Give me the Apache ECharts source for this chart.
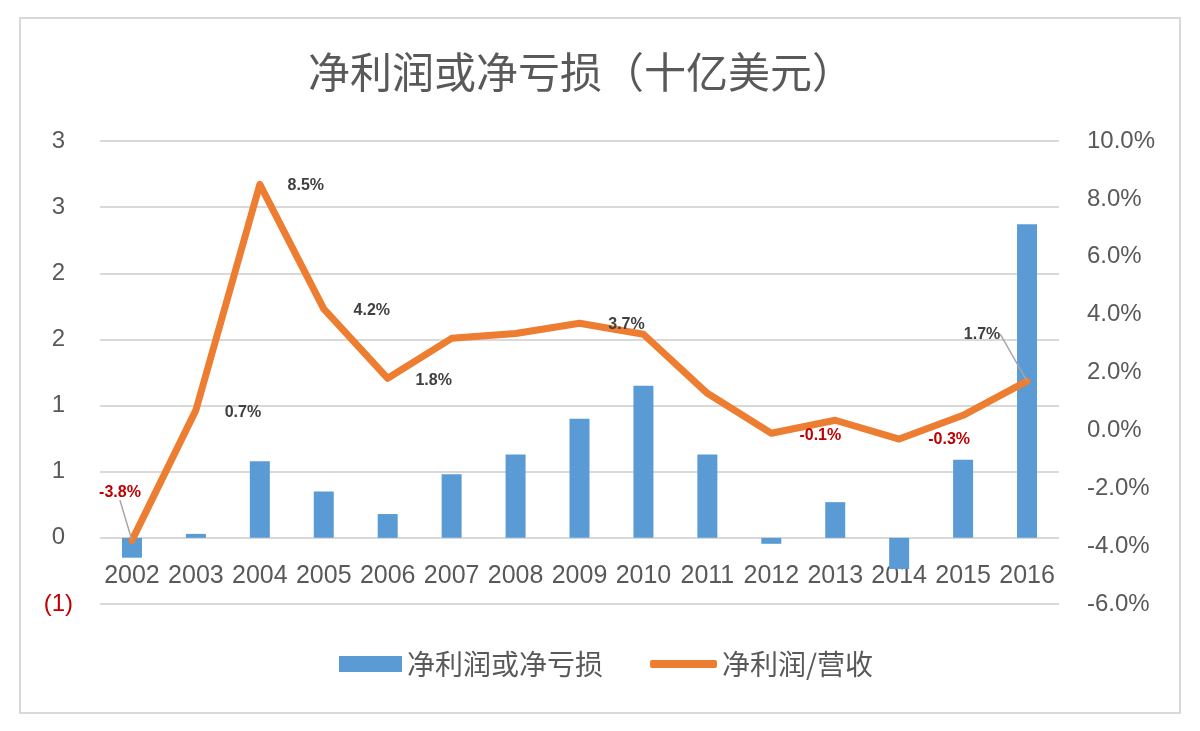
<!DOCTYPE html>
<html>
<head>
<meta charset="utf-8">
<script src="https://cdn.jsdelivr.net/npm/echarts@6/dist/echarts.min.js"></script>
<style>
html,body{margin:0;padding:0;background:#fff;}
#wrap{position:relative;width:1200px;height:731px;}
#frame{position:absolute;left:19px;top:17px;width:1158px;height:693px;border:2px solid #D9D9D9;}
#chart{position:absolute;left:0;top:0;width:1200px;height:731px;}
</style>
</head>
<body>
<div id="wrap"><div id="frame"></div><div id="chart"></div></div>
<script>
const titleText = '净利润或净亏损（十亿美元）';
const years = ['2002','2003','2004','2005','2006','2007','2008','2009','2010','2011','2012','2013','2014','2015','2016'];
const netIncome = [-0.15, 0.03, 0.58, 0.35, 0.18, 0.48, 0.63, 0.90, 1.15, 0.63, -0.045, 0.27, -0.235, 0.59, 2.37];
const netMargin = [-3.8, 0.7, 8.5, 4.2, 1.8, 3.18, 3.35, 3.7, 3.32, 1.28, -0.1, 0.35, -0.3, 0.52, 1.7];
const labeledYears = ['2002','2003','2004','2005','2006','2009','2012','2014','2016'];
const leaderYears = ['2002','2016'];
const seriesNames = ['净利润或净亏损', '净利润/营收'];

const RED = '#C00000';
const GRAY = '#595959';
const FONT = '"Liberation Sans", "Noto Sans CJK SC", sans-serif';
const CJK = '"Noto Sans CJK SC", sans-serif';

// label offsets (px) relative to the data point
const labelOffsets = {
  '2002': [-12, -48], '2003': [47, 2], '2004': [46, 1], '2005': [48, 2],
  '2006': [46, 2], '2009': [47, 1], '2012': [49, 2], '2014': [50, 1], '2016': [-45, -47]
};

const lineData = netMargin.map((v, i) => {
  const y = years[i];
  const show = labeledYears.indexOf(y) >= 0;
  return {
    value: v,
    label: { show: show, color: v < 0 ? RED : '#404040' },
    labelLine: { show: leaderYears.indexOf(y) >= 0 }
  };
});

const chart = echarts.init(document.getElementById('chart'));
chart.setOption({
  backgroundColor: 'transparent',
  animation: false,
  title: {
    text: titleText, left: 303, top: 46,
    textStyle: { fontFamily: CJK, fontSize: 42, fontWeight: 'normal', color: GRAY }
  },
  legend: [
    {
      data: [{ name: seriesNames[0], icon: 'rect' }],
      left: 334, top: 645, itemWidth: 63, itemHeight: 16, itemGap: 8,
      textStyle: { fontFamily: CJK, fontSize: 28, color: GRAY }
    },
    {
      data: [{ name: seriesNames[1], icon: 'roundRect' }],
      left: 645, top: 645, itemWidth: 67, itemHeight: 8, itemGap: 8,
      textStyle: { fontFamily: CJK, fontSize: 28, color: GRAY }
    }
  ],
  grid: { left: 100, right: 141, top: 141, bottom: 127, containLabel: false },
  xAxis: {
    type: 'category', data: years, boundaryGap: true, offset: 0,
    axisLine: { show: true, onZero: true, onZeroAxisIndex: 0, lineStyle: { color: 'rgba(0,0,0,0)' } },
    axisTick: { show: false },
    axisLabel: { interval: 0, margin: 26, fontFamily: FONT, fontSize: 25, color: GRAY }
  },
  yAxis: [
    {
      type: 'value', min: -0.5, max: 3, interval: 0.5,
      axisLine: { show: false }, axisTick: { show: false },
      splitLine: { lineStyle: { color: '#D9D9D9', width: 2 } },
      axisLabel: {
        margin: 27, fontFamily: FONT, fontSize: 24, color: GRAY, align: 'right',
        formatter: v => v < 0 ? '{n|(' + Math.round(-v + 1e-9) + ')}' : '{p|' + Math.round(v + 1e-9) + '}',
        rich: {
          n: { color: RED, fontFamily: FONT, fontSize: 24 },
          p: { color: GRAY, fontFamily: FONT, fontSize: 24, padding: [0, 8, 0, 0] }
        }
      }
    },
    {
      type: 'value', min: -6, max: 10, interval: 2,
      axisLine: { show: false }, axisTick: { show: false }, splitLine: { show: false },
      axisLabel: {
        margin: 28, fontFamily: FONT, fontSize: 24, color: GRAY,
        formatter: v => v.toFixed(1) + '%'
      }
    }
  ],
  series: [
    {
      name: seriesNames[0], type: 'bar', yAxisIndex: 0, data: netIncome,
      barWidth: 20, itemStyle: { color: '#5B9BD5' }, z: 2
    },
    {
      name: seriesNames[1], type: 'line', yAxisIndex: 1, data: lineData,
      symbol: 'circle', symbolSize: 1, showSymbol: true,
      lineStyle: { color: '#ED7D31', width: 7, cap: 'round', join: 'round' },
      itemStyle: { color: '#ED7D31' },
      z: 3,
      label: {
        show: false, position: 'inside', fontFamily: FONT, fontSize: 16, fontWeight: 'bold',
        formatter: p => p.value.toFixed(1) + '%'
      },
      labelLine: { show: false, lineStyle: { color: '#A6A6A6', width: 1.5 } },
      labelLayout: function (params) {
        const off = labelOffsets[years[params.dataIndex]] || [0, 0];
        return { dx: off[0], dy: off[1] };
      }
    }
  ]
});

// Place the category axis at the left axis' zero line (as Excel does), using the library's scale.
const zeroY = chart.convertToPixel({ yAxisIndex: 0 }, 0);
const minY = chart.convertToPixel({ yAxisIndex: 0 }, -0.5);
if (isFinite(zeroY) && isFinite(minY) && Math.abs(minY - zeroY) > 1) {
  chart.setOption({ xAxis: { offset: -(minY - zeroY) } });
}
</script>
</body>
</html>
